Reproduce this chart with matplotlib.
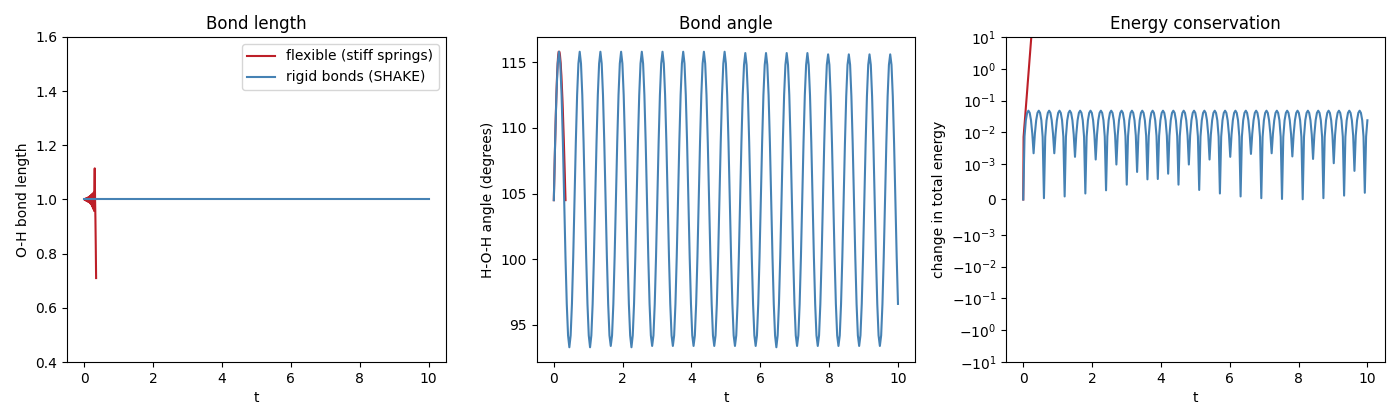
import numpy as np
import matplotlib
matplotlib.use("Agg")
import matplotlib.pyplot as plt

# rigid (SHAKE) run: 267 samples from t=0 to t=10
t = np.linspace(0, 10, 267)
rigid_length = 1.0

rigid_angle = [
    104.5, 108.9, 112.5, 114.9, 115.8, 114.9, 112.5, 108.9, 104.5, 100.2, 96.6, 94.2, 93.3, 94.2, 96.6, 100.2,
    104.5, 108.9, 112.5, 114.9, 115.8, 114.9, 112.5, 108.9, 104.5, 100.2, 96.6, 94.2, 93.3, 94.2, 96.6, 100.2,
    104.5, 108.9, 112.5, 114.9, 115.8, 114.9, 112.5, 108.9, 104.5, 100.2, 96.6, 94.2, 93.4, 94.2, 96.6, 100.2,
    104.5, 108.9, 112.5, 114.9, 115.8, 114.9, 112.5, 108.9, 104.5, 100.2, 96.6, 94.2, 93.3, 94.2, 96.6, 100.2,
    104.5, 108.9, 112.5, 114.9, 115.8, 114.9, 112.5, 108.9, 104.5, 100.2, 96.6, 94.2, 93.4, 94.2, 96.6, 100.2,
    104.5, 108.9, 112.5, 114.9, 115.8, 114.9, 112.5, 108.9, 104.5, 100.2, 96.6, 94.2, 93.4, 94.2, 96.6, 100.2,
    104.5, 108.9, 112.5, 114.9, 115.8, 114.9, 112.5, 108.9, 104.5, 100.2, 96.6, 94.2, 93.4, 94.2, 96.6, 100.2,
    104.5, 108.9, 112.5, 114.9, 115.8, 114.9, 112.5, 108.9, 104.5, 100.2, 96.6, 94.2, 93.4, 94.2, 96.6, 100.2,
    104.5, 108.9, 112.5, 114.9, 115.8, 114.9, 112.5, 108.9, 104.5, 100.2, 96.6, 94.2, 93.4, 94.2, 96.6, 100.2,
    104.5, 108.9, 112.5, 114.8, 115.7, 114.8, 112.5, 108.9, 104.5, 100.2, 96.6, 94.2, 93.4, 94.2, 96.6, 100.2,
    104.5, 108.9, 112.5, 114.8, 115.7, 114.8, 112.5, 108.9, 104.5, 100.2, 96.6, 94.2, 93.3, 94.2, 96.6, 100.2,
    104.5, 108.9, 112.5, 114.8, 115.7, 114.8, 112.5, 108.9, 104.5, 100.2, 96.6, 94.2, 93.4, 94.2, 96.6, 100.2,
    104.5, 108.9, 112.5, 114.8, 115.7, 114.8, 112.5, 108.9, 104.5, 100.2, 96.6, 94.2, 93.4, 94.2, 96.6, 100.2,
    104.5, 108.8, 112.4, 114.8, 115.6, 114.8, 112.4, 108.8, 104.5, 100.2, 96.6, 94.2, 93.4, 94.2, 96.6, 100.2,
    104.5, 108.8, 112.4, 114.8, 115.6, 114.8, 112.4, 108.8, 104.5, 100.2, 96.6, 94.2, 93.4, 94.2, 96.6, 100.2,
    104.5, 108.8, 112.4, 114.8, 115.6, 114.8, 112.4, 108.8, 104.5, 100.2, 96.6, 94.2, 93.4, 94.2, 96.6, 100.2,
    104.5, 108.8, 112.4, 114.8, 115.6, 114.8, 112.4, 108.8, 104.5, 100.2, 96.6,
]

rigid_energy = [
    0.0, 0.0075, 0.024, 0.041, 0.048, 0.041, 0.024, 0.0091,
    2.2e-3, 0.0091, 0.024, 0.041, 0.048, 0.041, 0.024, 0.0072,
    3.7e-5, 0.0072, 0.024, 0.041, 0.048, 0.041, 0.024, 0.0091,
    2.2e-3, 0.0091, 0.024, 0.041, 0.048, 0.041, 0.024, 0.0073,
    8.6e-5, 0.0073, 0.024, 0.041, 0.048, 0.041, 0.024, 0.0086,
    1.7e-3, 0.0086, 0.024, 0.041, 0.048, 0.041, 0.024, 0.0073,
    1.7e-4, 0.0073, 0.024, 0.041, 0.048, 0.041, 0.024, 0.0084,
    1.4e-3, 0.0084, 0.024, 0.041, 0.048, 0.041, 0.024, 0.0074,
    2.6e-4, 0.0074, 0.024, 0.041, 0.048, 0.041, 0.024, 0.0080,
    9.9e-4, 0.0080, 0.024, 0.041, 0.048, 0.041, 0.024, 0.0076,
    4.2e-4, 0.0076, 0.024, 0.041, 0.048, 0.041, 0.024, 0.0079,
    7.8e-4, 0.0079, 0.024, 0.041, 0.048, 0.041, 0.024, 0.0077,
    5.7e-4, 0.0077, 0.024, 0.041, 0.048, 0.041, 0.024, 0.0077,
    5.8e-4, 0.0077, 0.024, 0.041, 0.048, 0.041, 0.024, 0.0078,
    7.3e-4, 0.0078, 0.024, 0.041, 0.048, 0.041, 0.024, 0.0076,
    4.2e-4, 0.0076, 0.024, 0.041, 0.048, 0.041, 0.024, 0.0080,
    9.9e-4, 0.0080, 0.024, 0.041, 0.048, 0.041, 0.024, 0.0074,
    2.7e-4, 0.0074, 0.024, 0.041, 0.048, 0.041, 0.024, 0.0084,
    1.4e-3, 0.0084, 0.024, 0.041, 0.048, 0.041, 0.024, 0.0073,
    1.7e-4, 0.0073, 0.024, 0.041, 0.048, 0.041, 0.024, 0.0086,
    1.7e-3, 0.0086, 0.024, 0.041, 0.048, 0.041, 0.024, 0.0073,
    8.6e-5, 0.0073, 0.024, 0.041, 0.048, 0.041, 0.024, 0.0090,
    2.1e-3, 0.0090, 0.024, 0.041, 0.048, 0.041, 0.024, 0.0072,
    3.7e-5, 0.0072, 0.024, 0.041, 0.048, 0.041, 0.024, 0.0091,
    2.2e-3, 0.0091, 0.024, 0.041, 0.048, 0.041, 0.024, 0.0072,
    1.5e-5, 0.0072, 0.024, 0.041, 0.048, 0.041, 0.024, 0.0087,
    1.75e-3, 0.0087, 0.024, 0.041, 0.048, 0.041, 0.024, 0.0072,
    6e-6, 0.0072, 0.024, 0.041, 0.048, 0.041, 0.024, 0.0084,
    1.46e-3, 0.0084, 0.024, 0.041, 0.048, 0.041, 0.024, 0.0072,
    3.7e-5, 0.0072, 0.024, 0.041, 0.048, 0.041, 0.024, 0.0081,
    1.07e-3, 0.0081, 0.024, 0.041, 0.048, 0.041, 0.024, 0.0073,
    1.1e-4, 0.0073, 0.024, 0.041, 0.048, 0.041, 0.024, 0.0079,
    8.1e-4, 0.0079, 0.024, 0.041, 0.048, 0.041, 0.024, 0.0074,
    1.9e-4, 0.0074, 0.024,
]

# flexible run blows up around t=0.3, 35 samples
t_flex = np.linspace(0, 0.34, 35)

flex_length = [
    1.000, 1.002, 0.998, 1.003, 0.997, 1.004, 0.995, 1.005, 0.994, 1.006,
    0.993, 1.008, 0.991, 1.009, 0.990, 1.011, 0.988, 1.013, 0.985, 1.015,
    0.982, 1.018, 0.978, 1.020, 0.972, 1.022, 0.965, 1.025, 0.958, 1.040,
    1.115, 1.000, 0.930, 0.830, 0.710,
]

flex_angle = [
    104.5, 105.7, 106.9, 108.0, 109.1, 110.2, 111.2, 112.1, 112.9, 113.7,
    114.3, 114.8, 115.3, 115.6, 115.8, 115.8, 115.8, 115.7, 115.5, 115.2,
    114.9, 114.4, 114.0, 113.4, 112.8, 112.2, 111.5, 110.7, 109.9, 109.1,
    108.2, 107.3, 106.4, 105.4, 104.5,
]

flex_energy = [
    0.0, 7.2e-3, 1.0e-2, 1.4e-2, 1.9e-2, 2.6e-2, 3.6e-2, 0.05, 0.069, 0.095,
    0.13, 0.18, 0.25, 0.35, 0.48, 0.66, 0.91, 1.26, 1.74, 2.4,
    3.3, 4.6, 6.3, 8.7, 12.0, 16.6, 23.0, 32.0, 44.0, 60.0,
    83.0, 115.0, 160.0, 220.0, 300.0,
]

red = "#bd1f28"
blue = "#4682b4"

fig, axes = plt.subplots(1, 3, figsize=(14, 4.2), dpi=100)
plt.subplots_adjust(left=0.048, right=0.989, bottom=0.138, top=0.912, wspace=0.24)

ax = axes[0]
ax.plot(t_flex, flex_length, color=red, label="flexible (stiff springs)")
ax.plot(t, np.full_like(t, rigid_length), color=blue, label="rigid bonds (SHAKE)")
ax.set_ylim(0.4, 1.6)
ax.set_title("Bond length")
ax.set_xlabel("t")
ax.set_ylabel("O-H bond length")
ax.legend(loc="upper right")

ax = axes[1]
ax.plot(t_flex, flex_angle, color=red)
ax.plot(t, rigid_angle, color=blue)
ax.set_title("Bond angle")
ax.set_xlabel("t")
ax.set_ylabel("H-O-H angle (degrees)")

ax = axes[2]
ax.plot(t_flex, flex_energy, color=red)
ax.plot(t, rigid_energy, color=blue)
ax.set_yscale("symlog", linthresh=1e-3)
ax.set_ylim(-10, 10)
ax.set_title("Energy conservation")
ax.set_xlabel("t")
ax.set_ylabel("change in total energy")

fig.savefig("out.png")
